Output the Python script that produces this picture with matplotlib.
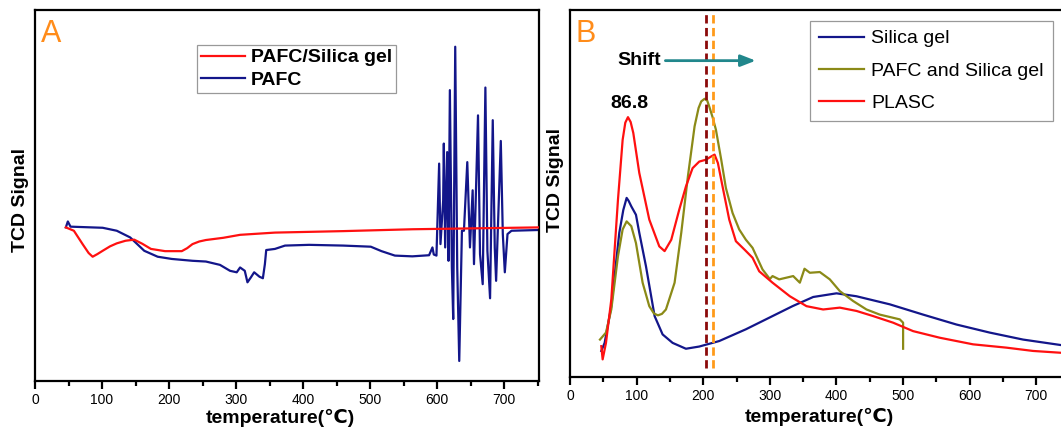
import matplotlib
matplotlib.use("Agg")
import matplotlib.pyplot as plt
from matplotlib.ticker import MultipleLocator

plt.rcParams['font.family'] = ['Liberation Sans', 'DejaVu Sans']

# ---- panel A data (temperature in C, TCD signal in a.u.) ----
a_red_t = [46, 58, 71, 80, 86, 93, 101, 112, 122, 135, 148, 160, 173, 194, 219, 227, 235, 245, 255, 281, 306, 358, 460, 563, 751]
a_red_y = [41.4, 40.5, 36.9, 34.5, 33.5, 34.2, 35.1, 36.3, 37.1, 37.8, 38.1, 37.0, 35.6, 35.0, 35.0, 35.8, 36.9, 37.6, 38.0, 38.6, 39.4, 40.0, 40.4, 40.9, 41.4]

a_blue_t = [46, 49, 53, 101, 122, 142, 163, 183, 204, 235, 255, 276, 291, 301, 306, 313, 317, 322, 327,
            335, 340, 343, 345, 358, 373, 409, 460, 501, 517, 537, 563, 588, 593, 595, 599,
            603, 605, 609, 610, 612, 615, 617, 619, 622, 624, 627, 630, 633, 637, 640,
            645, 649, 653, 655, 661, 664, 668, 672, 675, 679, 683, 686, 688, 695, 698, 701,
            705, 711, 751]
a_blue_y = [41.4, 43.0, 41.6, 41.3, 40.5, 38.7, 35.1, 33.5, 32.9, 32.4, 32.2, 31.3, 29.7, 29.3, 30.6, 29.7, 26.6, 27.9, 29.3,
            28.1, 27.7, 31.5, 35.3, 35.6, 36.5, 36.7, 36.5, 36.2, 35.0, 33.8, 33.6, 33.9, 36.0, 34.1, 33.8,
            58.6, 36.9, 48.6, 64.0, 36.0, 61.7, 32.4, 78.4, 30.6, 16.7, 90.1, 30.6, 5.4, 40.5, 40.5,
            59.0, 36.0, 51.4, 31.5, 71.6, 34.2, 26.1, 79.1, 35.1, 22.3, 70.3, 36.0, 27.0, 64.7, 39.6, 29.3,
            39.6, 40.5, 40.7]

# ---- panel B data ----
b_silica_t = [47, 52, 62, 74, 80, 85, 88, 92, 99, 104, 114, 127, 139, 154, 174, 194, 224, 264, 304, 334, 365,
              400, 430, 480, 530, 580, 630, 680, 737]
b_silica_y = [7.1, 9.3, 19.3, 39.3, 45.5, 48.8, 48.0, 46.5, 44.2, 39.3, 30.2, 16.6, 11.6, 9.3, 7.7, 8.3, 9.8, 13.0, 16.6, 19.3, 21.8,
              22.8, 22.0, 19.8, 17.0, 14.3, 12.1, 10.2, 8.7]

b_mix_t = [45, 54, 62, 72, 79, 85, 92, 99, 109, 119, 126, 132, 138, 144, 157, 167, 177, 187, 193, 197, 202, 206, 209, 214, 219,
           227, 234, 244, 254, 264, 274, 289, 300, 304, 314, 335, 345, 352, 360, 375, 390, 405, 425,
           445, 465, 495, 500, 500]
b_mix_y = [10.2, 12.1, 18.4, 32.9, 40.2, 42.4, 41.1, 36.5, 25.7, 19.3, 17.3, 16.8, 17.2, 18.4, 25.7, 39.3, 54.7, 68.3, 73.3, 75.1, 75.8, 75.3, 73.7, 70.8, 67.4,
           59.2, 51.5, 44.7, 40.2, 37.4, 35.2, 29.3, 26.7, 27.5, 26.6, 27.5, 25.7, 29.5, 28.4, 28.6, 26.6, 23.4, 20.7,
           18.4, 17.0, 15.7, 14.8, 7.7]

b_plasc_t = [47, 49, 54, 62, 72, 79, 83, 87, 91, 95, 104, 119, 134, 142, 152, 164, 174, 184, 194, 204, 212, 217,
             222, 229, 239, 249, 262, 274, 284, 304, 330, 355, 380, 405, 430, 455, 485, 515, 555, 605,
             655, 695, 737]
b_plasc_y = [8.4, 4.8, 9.3, 21.1, 48.3, 64.6, 69.3, 70.8, 69.5, 66.5, 55.6, 42.9, 35.6, 34.3, 37.4, 45.6, 51.9, 56.9, 58.7, 59.2, 60.1, 60.6,
             58.3, 51.9, 42.9, 37.0, 34.7, 32.5, 28.8, 25.7, 22.0, 19.3, 18.4, 18.9, 18.0, 16.6, 14.8, 12.5, 10.7, 8.9,
             8.0, 7.1, 6.6]

shift_lines = [204, 215]
peak_label = "86.8"

navy = '#13168a'
red = '#ff1010'
olive = '#8b8a17'
orange = '#ff8c1a'

fig = plt.figure(figsize=(10.61, 4.28), dpi=100)
axA = fig.add_axes([35 / 1061, 47 / 428, 504 / 1061, 371 / 428])
axB = fig.add_axes([570 / 1061, 51 / 428, 491 / 1061, 367 / 428])


def style(ax, xmax):
    ax.set_xlim(0, xmax)
    ax.set_ylim(0, 100)
    ax.xaxis.set_major_locator(MultipleLocator(100))
    ax.xaxis.set_minor_locator(MultipleLocator(50))
    ax.tick_params(axis='x', which='major', direction='out', length=6, width=1.6, labelsize=10, pad=3)
    ax.tick_params(axis='x', which='minor', direction='out', length=3.5, width=1.6)
    ax.tick_params(axis='y', left=False, labelleft=False)
    for s in ax.spines.values():
        s.set_linewidth(1.6)
    ax.set_xlabel('temperature(℃)', fontsize=14, fontweight='bold')
    ax.set_ylabel('TCD Signal', fontsize=14, fontweight='bold')


# ---- panel A ----
style(axA, 752)
axA.plot(a_red_t, a_red_y, color=red, lw=1.6, label='PAFC/Silica gel', zorder=3)
axA.plot(a_blue_t, a_blue_y, color=navy, lw=1.6, label='PAFC', zorder=2)
axA.text(0.012, 0.975, 'A', transform=axA.transAxes, color=orange, fontsize=22, va='top', ha='left')
legA = axA.legend(loc='upper left', bbox_to_anchor=(0.321, 0.906), borderaxespad=0,
                  prop={'size': 14, 'weight': 'bold'}, handlelength=2.3, handletextpad=0.3,
                  labelspacing=0.25, borderpad=0.2, fancybox=False, edgecolor='#808080')
legA.get_frame().set_linewidth(0.9)
axA.xaxis.set_label_coords(0.486, -0.075)
axA.yaxis.set_label_coords(-0.012, 0.488)

# ---- panel B ----
style(axB, 737)
axB.spines['right'].set_visible(False)
axB.plot(b_silica_t, b_silica_y, color=navy, lw=1.6, label='Silica gel')
axB.plot(b_mix_t, b_mix_y, color=olive, lw=1.6, label='PAFC and Silica gel')
axB.plot(b_plasc_t, b_plasc_y, color=red, lw=1.6, label='PLASC')
axB.axvline(shift_lines[0], ymin=0.025, ymax=1, color='#8b0a0a', lw=2, ls=(0, (3, 1.6)))
axB.axvline(shift_lines[1], ymin=0.025, ymax=1, color='#ff9a1a', lw=2, ls=(0, (3, 1.6)))
axB.text(0.012, 0.975, 'B', transform=axB.transAxes, color=orange, fontsize=22, va='top', ha='left')
axB.annotate('', xy=(283, 86.2), xytext=(139, 86.2),
             arrowprops=dict(arrowstyle='-|>,head_length=0.9,head_width=0.35', color='#21878c', lw=2))
axB.text(137, 86.2, 'Shift', fontsize=14, fontweight='bold', ha='right', va='center')
axB.text(89, 74.4, peak_label, fontsize=14, fontweight='bold', ha='center', va='center')
legB = axB.legend(loc='upper left', bbox_to_anchor=(0.489, 0.970), borderaxespad=0,
                  prop={'size': 14}, handlelength=2.3, handletextpad=0.4,
                  labelspacing=0.75, borderpad=0.45, fancybox=False, edgecolor='#808080')
legB.get_frame().set_linewidth(0.9)
axB.xaxis.set_label_coords(0.507, -0.085)
axB.yaxis.set_label_coords(-0.012, 0.537)

fig.savefig('out.png', dpi=100)
